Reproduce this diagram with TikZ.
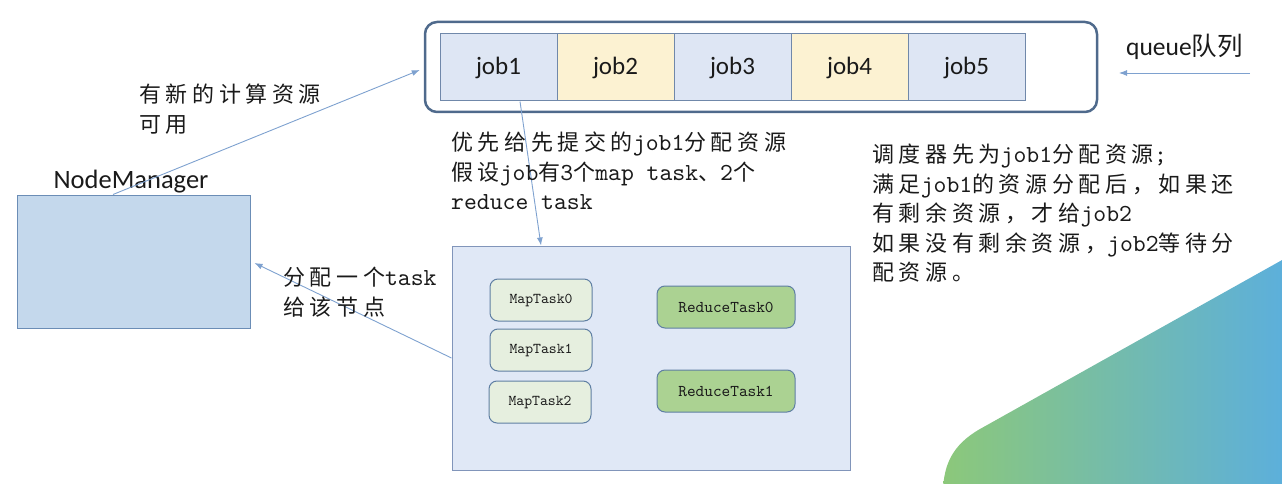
\documentclass[tikz,border=0pt]{standalone}
\usepackage{fontspec}
\setmainfont{Carlito}
\newfontfamily\cjk[LetterSpace=21]{Noto Sans CJK SC}
\newfontfamily\cjkq{Noto Sans CJK SC}
\newfontfamily\mono{lmmono10-regular}[Extension=.otf]
\newfontfamily\tmono{lmmono10-regular}[Extension=.otf]
\usetikzlibrary{arrows.meta}
\newcommand\cj[1]{{\cjk #1}}
\newcommand\mo[1]{{\fontsize{24.5}{29.5}\selectfont\mono #1}}
\definecolor{txt}{HTML}{1A1A1A}
\definecolor{arr}{HTML}{7EA1CF}
\definecolor{qborder}{HTML}{4F6A8C}
\definecolor{cellb}{HTML}{DEE6F4}
\definecolor{celly}{HTML}{FCF2D2}
\definecolor{cellline}{HTML}{7088AA}
\definecolor{nmfill}{HTML}{C4D8EC}
\definecolor{nmline}{HTML}{6B8DB6}
\definecolor{bigfill}{HTML}{E0E8F6}
\definecolor{bigline}{HTML}{8195BA}
\definecolor{mapfill}{HTML}{E6EFDF}
\definecolor{redfill}{HTML}{ABD292}
\definecolor{taskline}{HTML}{5F7FA3}
\definecolor{gA}{HTML}{8CC87A}
\definecolor{gB}{HTML}{5AAEE0}
\tikzset{
  cell/.style={draw=cellline, line width=1pt, minimum width=117pt, minimum height=67pt, inner sep=0pt, font=\fontsize{25}{28}\selectfont, text=txt},
  conn/.style={draw=arr, line width=0.9pt, -{Latex[length=8pt,width=6pt]}},
  maptask/.style={draw=taskline, line width=1pt, fill=mapfill, rounded corners=8pt, minimum width=102pt, minimum height=42pt, inner sep=0pt, font=\tmono\fontsize{15}{17}\selectfont, text=txt},
  redtask/.style={draw=taskline, line width=1pt, fill=redfill, rounded corners=8pt, minimum width=138pt, minimum height=42pt, inner sep=0pt, font=\tmono\fontsize{16.5}{18}\selectfont, text=txt},
  note/.style={anchor=north west, inner sep=0pt, align=left, text=txt, font=\fontsize{22}{29.5}\selectfont},
}
\begin{document}
\begin{tikzpicture}[x=1pt,y=-1pt]
\useasboundingbox (0,0) rectangle (1282,484);
% decorative gradient shape
\shade[left color=gA, right color=gB] (1300,250) -- (980,429) .. controls (952,445) and (944,465) .. (943,490) -- (1300,490) -- cycle;
% queue
\node[draw=qborder, line width=2.5pt, rounded corners=12pt, minimum width=672pt, minimum height=90pt, inner sep=0pt] (queue) at (761,67) {};
\node[cell, fill=cellb] (job1) at (498.5,67.5) {job1};
\node[cell, fill=celly] (job2) at (615.5,67.5) {job2};
\node[cell, fill=cellb] (job3) at (732.5,67.5) {job3};
\node[cell, fill=celly] (job4) at (849.5,67.5) {job4};
\node[cell, fill=cellb] (job5) at (966.5,67.5) {job5};
% queue label and arrow
\node[anchor=west, inner sep=0pt, text=txt, font=\fontsize{25.5}{28}\selectfont] (qlabel) at (1126,47) {queue{\cjkq 队列}};
\coordinate (qa) at (1250,73);
\coordinate (qb) at (1119,73);
\draw[conn] (qa) -- (qb);
% NodeManager
\node[draw=nmline, line width=1pt, fill=nmfill, minimum width=233pt, minimum height=133pt, inner sep=0pt] (nm) at (133.5,261.5) {};
\node[inner sep=0pt, text=txt, font=\fontsize{26.5}{29}\selectfont] (nmlabel) at (131,182) {NodeManager};
% big box
\node[draw=bigline, line width=1pt, fill=bigfill, minimum width=398pt, minimum height=224pt, inner sep=0pt] (big) at (651,358) {};
\node[maptask] (m0) at (541,300) {MapTask0};
\node[maptask] (m1) at (541,350) {MapTask1};
\node[maptask] (m2) at (540,402) {MapTask2};
\node[redtask] (r0) at (726,307) {ReduceTask0};
\node[redtask] (r1) at (726,391) {ReduceTask1};
% connectors
\draw[conn] ([xshift=-20.5pt]nm.north) -- ([xshift=-4pt,yshift=-3pt]queue.west);
\draw[conn] ([xshift=21.5pt]job1.south) -- ([xshift=-110pt]big.north);
\draw[conn] (big.west) -- ([xshift=4pt,yshift=-1.5pt]nm.east);
% texts
\node[note] (t1) at (139,84) {\cj{有新的计算资源}\\\cj{可用}};
\node[note] (t2) at (451,132) {\cj{优先给先提交的}\mo{job1}\cj{分配资源}\\\cj{假设}\mo{job}\cj{有}\mo{3}\cj{个}\mo{map task}\cj{、}\mo{2}\cj{个}\\\mo{reduce task}};
\node[note] (t3) at (872,144) {\cj{调度器先为}\mo{job1}\cj{分配资源}\mo{;}\\\cj{满足}\mo{job1}\cj{的资源分配后，如果还}\\\cj{有剩余资源，才给}\mo{job2}\\\cj{如果没有剩余资源，}\mo{job2}\cj{等待分}\\\cj{配资源。}};
\node[note] (t4) at (283,267) {\cj{分配一个}\mo{task}\\\cj{给该节点}};
\end{tikzpicture}
\end{document}
